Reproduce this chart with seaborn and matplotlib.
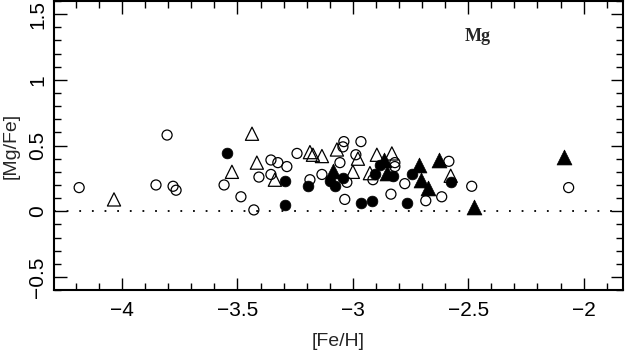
import numpy as np
import pandas as pd
import matplotlib
matplotlib.use('Agg')
import matplotlib.pyplot as plt
import seaborn as sns
from matplotlib.ticker import MultipleLocator

# open circles
oc_feh = [-4.186, -3.853, -3.779, -3.766, -3.805, -3.558, -3.485, -3.429, -3.407,
          -3.355, -3.325, -3.286, -3.355, -3.242, -3.134, -3.186, -3.056, -3.039,
          -2.965, -3.043, -2.987, -3.026, -3.035, -2.913, -2.835, -2.818, -2.818,
          -2.775, -2.684, -2.584, -2.615, -2.485, -2.065]
oc_mgfe = [0.18, 0.20, 0.19, 0.16, 0.58, 0.20, 0.11, 0.01, 0.26,
           0.39, 0.37, 0.34, 0.28, 0.44, 0.28, 0.24, 0.37, 0.53,
           0.53, 0.49, 0.43, 0.22, 0.09, 0.24, 0.13, 0.37, 0.34,
           0.21, 0.08, 0.38, 0.11, 0.19, 0.18]

# open triangles
ot_feh = [-4.035, -3.437, -3.524, -3.416, -3.338, -3.186, -3.173, -3.134, -3.069,
          -2.978, -3.000, -2.896, -2.926, -2.831, -2.576]
ot_mgfe = [0.09, 0.59, 0.30, 0.37, 0.24, 0.45, 0.43, 0.42, 0.47,
           0.40, 0.30, 0.43, 0.29, 0.44, 0.27]

# filled circles
fc_feh = [-3.545, -3.294, -3.294, -3.195, -3.100, -3.078, -3.043, -2.965, -2.918,
          -2.905, -2.883, -2.827, -2.766, -2.745, -2.576]
fc_mgfe = [0.44, 0.23, 0.05, 0.19, 0.23, 0.19, 0.25, 0.06, 0.08,
           0.28, 0.35, 0.27, 0.06, 0.28, 0.22]

# filled triangles
ft_feh = [-3.087, -2.866, -2.853, -2.714, -2.706, -2.675, -2.628, -2.476, -2.087]
ft_mgfe = [0.31, 0.39, 0.29, 0.35, 0.24, 0.18, 0.39, 0.03, 0.41]

sns.set_style('ticks')
plt.rcParams['font.family'] = ['Liberation Sans', 'DejaVu Sans']

fig = plt.figure(figsize=(6.33, 3.52), dpi=100)
ax = fig.add_axes([0.0853, 0.176, 0.8987, 0.821])

sns.scatterplot(x=oc_feh, y=oc_mgfe, marker='o', s=52, facecolors='none',
                edgecolor='black', linewidth=0.9, ax=ax, zorder=3)
sns.scatterplot(x=ot_feh, y=ot_mgfe, marker='^', s=90, facecolors='none',
                edgecolor='black', linewidth=0.9, ax=ax, zorder=3)
sns.scatterplot(x=fc_feh, y=fc_mgfe, marker='o', s=60, color='black',
                edgecolor='black', linewidth=0.5, ax=ax, zorder=4)
sns.scatterplot(x=ft_feh, y=ft_mgfe, marker='^', s=115, color='black',
                edgecolor='black', linewidth=0.5, ax=ax, zorder=4)

ax.axhline(0, color='black', ls=(0, (1, 6)), lw=1.3, zorder=1)

ax.set_xlim(-4.295, -1.83)
ax.set_ylim(-0.6, 1.6)
ax.xaxis.set_minor_locator(MultipleLocator(0.1))
ax.yaxis.set_minor_locator(MultipleLocator(0.1))
ax.set_xticks([-4, -3.5, -3, -2.5, -2])
ax.set_xticklabels(['\u22124', '\u22123.5', '\u22123', '\u22122.5', '\u22122'])
ax.set_yticks([-0.5, 0, 0.5, 1, 1.5])
ax.set_yticklabels(['\u22120.5', '0', '0.5', '1', '1.5'])

ax.tick_params(which='both', direction='in', top=True, right=True, width=1.0,
               colors='black', labelsize=15)
ax.tick_params(which='major', length=9)
ax.tick_params(which='minor', length=5)
ax.tick_params(axis='x', pad=8)
ax.tick_params(axis='y', labelrotation=90, pad=5)
for lab in ax.get_yticklabels():
    lab.set_va('center')

for sp in ax.spines.values():
    sp.set_linewidth(1.5)
    sp.set_color('black')

ax.set_xlabel('[Fe/H]', fontsize=14, labelpad=9)
ax.set_ylabel('[Mg/Fe]', fontsize=14, labelpad=6)

ax.text(-2.46, 1.33, 'Mg', fontsize=13, fontweight='bold',
        family=['Liberation Serif', 'DejaVu Serif'], ha='center', va='center')

fig.savefig('out.png', dpi=100)
